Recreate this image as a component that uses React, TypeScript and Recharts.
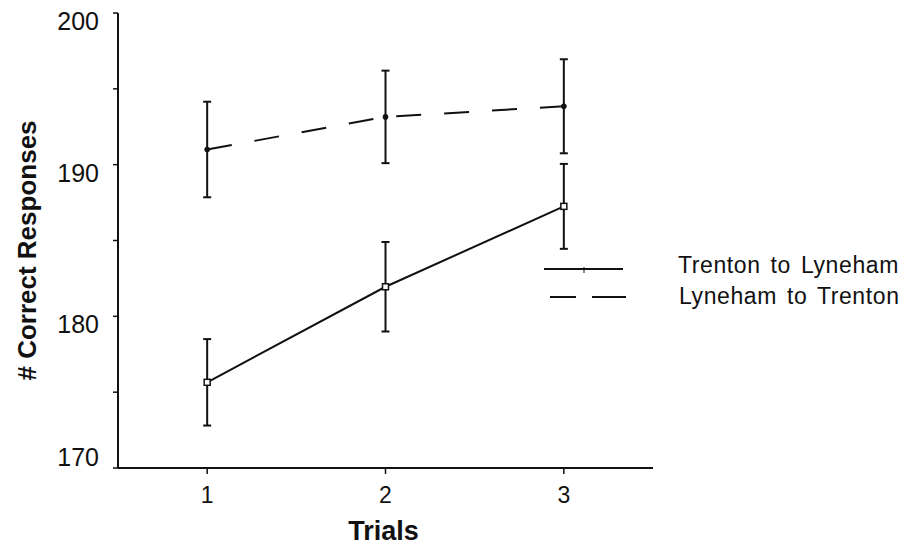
import React from 'react';
import { LineChart, Line, XAxis, YAxis, ErrorBar, Legend } from 'recharts';

const trials = [1, 2, 3];
const trentonToLyneham = [175.65, 181.95, 187.25];
const trentonToLynehamErr = [2.85, 2.95, 2.8];
const lynehamToTrenton = [191.0, 193.15, 193.85];
const lynehamToTrentonErr = [3.15, 3.05, 3.1];
const yTicks = [170, 175, 180, 185, 190, 195, 200];
const yLabelStep = 10;
const xTicks = [1, 2, 3];
const seriesNames = ['Trenton to Lyneham', 'Lyneham to Trenton'];
const xTitle = 'Trials';
const yTitle = '# Correct Responses';

const data = trials.map((t, i) => ({
  trial: t,
  tl: trentonToLyneham[i],
  tlErr: trentonToLynehamErr[i],
  lt: lynehamToTrenton[i],
  ltErr: lynehamToTrentonErr[i],
}));

const FONT = '"Liberation Sans", Arial, Helvetica, sans-serif';
const INK = '#111';

const YTick = (props: any) => {
  const { x, y, payload } = props;
  if (payload.value % yLabelStep !== 0) return <g />;
  const dy = payload.value === yTicks[0] ? -11 : 8;
  return (
    <text x={x} y={y + dy} textAnchor="end" dominantBaseline="central" fontFamily={FONT} fontSize={25} fill={INK}>
      {payload.value}
    </text>
  );
};

const XTick = (props: any) => {
  const { x, y, payload } = props;
  return (
    <text x={x} y={y} textAnchor="middle" dominantBaseline="central" fontFamily={FONT} fontSize={23} fill={INK}>
      {payload.value}
    </text>
  );
};

const SquareDot = (props: any) => {
  const { cx, cy, index } = props;
  return <rect key={`sq-${index}`} x={cx - 3} y={cy - 3} width={6} height={6} fill="#fff" stroke={INK} strokeWidth={1.5} />;
};

const RoundDot = (props: any) => {
  const { cx, cy, index } = props;
  return <circle key={`rd-${index}`} cx={cx} cy={cy} r={2.8} fill={INK} stroke="none" />;
};

const LegendContent = (props: any) => {
  const payload = [...(props.payload || [])].sort(
    (a: any, b: any) => seriesNames.indexOf(a.value) - seriesNames.indexOf(b.value)
  );
  return (
    <svg width={392} height={80} style={{ display: 'block', overflow: 'visible' }}>
      {payload.map((entry: any, i: number) => {
        const dashed = !!(entry.payload && entry.payload.strokeDasharray);
        const ly = 29 + i * 28;
        const ty = 33 + i * 31;
        return (
          <g key={`leg-${i}`}>
            {dashed ? (
              <g>
                <line x1={30} y1={ly} x2={56} y2={ly} stroke={INK} strokeWidth={2} />
                <line x1={72} y1={ly} x2={106} y2={ly} stroke={INK} strokeWidth={2} />
              </g>
            ) : (
              <g>
                <line x1={24} y1={ly} x2={103} y2={ly} stroke={INK} strokeWidth={2} />
                <line x1={64} y1={ly - 2} x2={64} y2={ly + 4} stroke={INK} strokeWidth={1} />
              </g>
            )}
            <text x={158 + i} y={ty} fontFamily={FONT} fontSize={23} fill={INK} letterSpacing={0.6} wordSpacing={3}>
              {entry.value}
            </text>
          </g>
        );
      })}
    </svg>
  );
};

export default function App() {
  return (
    <div style={{ position: 'absolute', left: 0, top: 0, width: 912, height: 548, background: '#fff' }}>
      <LineChart width={912} height={548} data={data} margin={{ top: 13, right: 259, bottom: 50, left: 0 }}>
        <XAxis
          dataKey="trial"
          type="number"
          domain={[0.5, 3.5]}
          ticks={xTicks}
          allowDataOverflow
          height={30}
          stroke={INK}
          strokeWidth={2}
          tickSize={6}
          tickMargin={21}
          tick={<XTick />}
          tickLine={{ stroke: INK, strokeWidth: 1.5 }}
          label={{
            content: (p: any) => {
              const vb = p.viewBox || { x: 0, y: 0, width: 0 };
              return (
                <text x={vb.x + vb.width / 2 - 2} y={540} textAnchor="middle" fontFamily={FONT} fontSize={27} fontWeight="bold" fill={INK}>
                  {xTitle}
                </text>
              );
            },
          }}
        />
        <YAxis
          type="number"
          domain={[170, 200]}
          ticks={yTicks}
          width={118}
          allowDataOverflow
          stroke={INK}
          strokeWidth={2}
          tickSize={5}
          tickMargin={14}
          tick={<YTick />}
          tickLine={{ stroke: INK, strokeWidth: 1.5 }}
          label={{
            content: (p: any) => {
              const vb = p.viewBox || { x: 0, y: 0, height: 0 };
              const cx = 27;
              const cy = vb.y + vb.height / 2 + 10;
              return (
                <text
                  x={cx}
                  y={cy}
                  transform={`rotate(-90, ${cx}, ${cy})`}
                  textAnchor="middle"
                  dominantBaseline="central"
                  fontFamily={FONT}
                  fontSize={26}
                  fontWeight="bold"
                  fill={INK}
                >
                  {yTitle}
                </text>
              );
            },
          }}
        />
        <Legend
          layout="vertical"
          align="center"
          verticalAlign="middle"
          content={<LegendContent />}
          wrapperStyle={{ position: 'absolute', left: 520, top: 240, width: 392, height: 80 }}
        />
        <Line
          name={seriesNames[0]}
          dataKey="tl"
          stroke={INK}
          strokeWidth={2}
          dot={<SquareDot />}
          activeDot={false}
          isAnimationActive={false}
        >
          <ErrorBar dataKey="tlErr" width={4} strokeWidth={2} stroke={INK} direction="y" />
        </Line>
        <Line
          name={seriesNames[1]}
          dataKey="lt"
          stroke={INK}
          strokeWidth={2}
          strokeDasharray="25 23"
          dot={<RoundDot />}
          activeDot={false}
          isAnimationActive={false}
        >
          <ErrorBar dataKey="ltErr" width={4} strokeWidth={2} stroke={INK} direction="y" />
        </Line>
      </LineChart>
    </div>
  );
}
